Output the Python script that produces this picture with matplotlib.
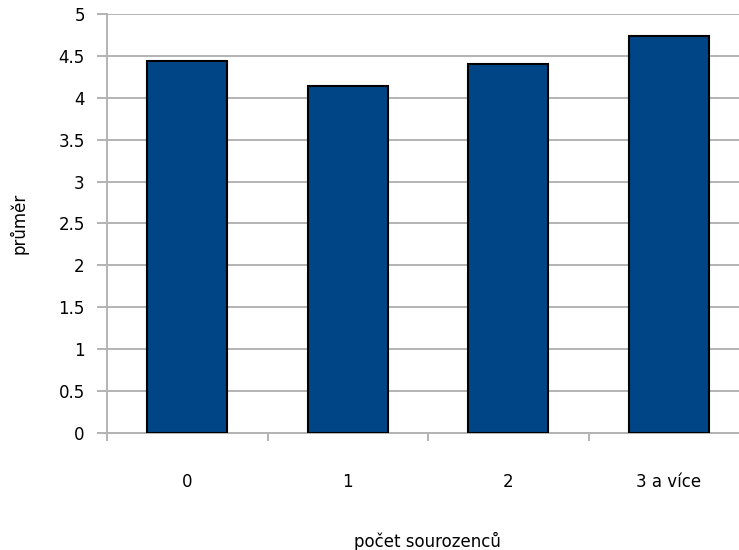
import matplotlib
matplotlib.use('Agg')
import matplotlib.pyplot as plt
import numpy as np

plt.rcParams['font.family'] = ['DejaVu Sans']

categories = ['0', '1', '2', '3 a více']
values = [4.44, 4.14, 4.40, 4.74]
yticks = [0, 0.5, 1, 1.5, 2, 2.5, 3, 3.5, 4, 4.5, 5]
ytick_labels = ['0', '0.5', '1', '1.5', '2', '2.5', '3', '3.5', '4', '4.5', '5']

grid_col = '#b3b3b3'
fs = 12

fig = plt.figure(figsize=(7.39, 5.5), dpi=100)
ax = fig.add_axes([107 / 739, 117 / 550, 642 / 739, 419 / 550])

x = np.arange(len(categories))
ax.bar(x, values, width=0.5, color='#004586', edgecolor='black', linewidth=1.5, zorder=3)

ax.set_xlim(-0.5, 3.5)
ax.set_ylim(0, 5)
ax.set_yticks(yticks)
ax.set_yticklabels(ytick_labels, fontsize=fs)
ax.yaxis.grid(True, color=grid_col, linewidth=1.4, zorder=0)

# separators between categories as major ticks, labels on minor ticks
ax.set_xticks([-0.5, 0.5, 1.5, 2.5])
ax.set_xticklabels([])
ax.set_xticks(x, minor=True)
ax.set_xticklabels(categories, minor=True, fontsize=fs)
ax.tick_params(axis='x', which='major', length=6, width=1.4, color=grid_col)
ax.tick_params(axis='x', which='minor', length=0, pad=28.5)
ax.tick_params(axis='y', length=7, width=1.4, color=grid_col, pad=9)

for s in ['top', 'right']:
    ax.spines[s].set_visible(False)
for s in ['left', 'bottom']:
    ax.spines[s].set_color(grid_col)
    ax.spines[s].set_linewidth(1.4)

fig.text(19 / 739, 1 - 223 / 550, 'průměr', rotation=90, ha='center', va='center', fontsize=fs)
fig.text(427 / 739, 1 - 541 / 550, 'počet sourozenců', ha='center', va='center', fontsize=fs)

fig.savefig('out.png', dpi=100)
